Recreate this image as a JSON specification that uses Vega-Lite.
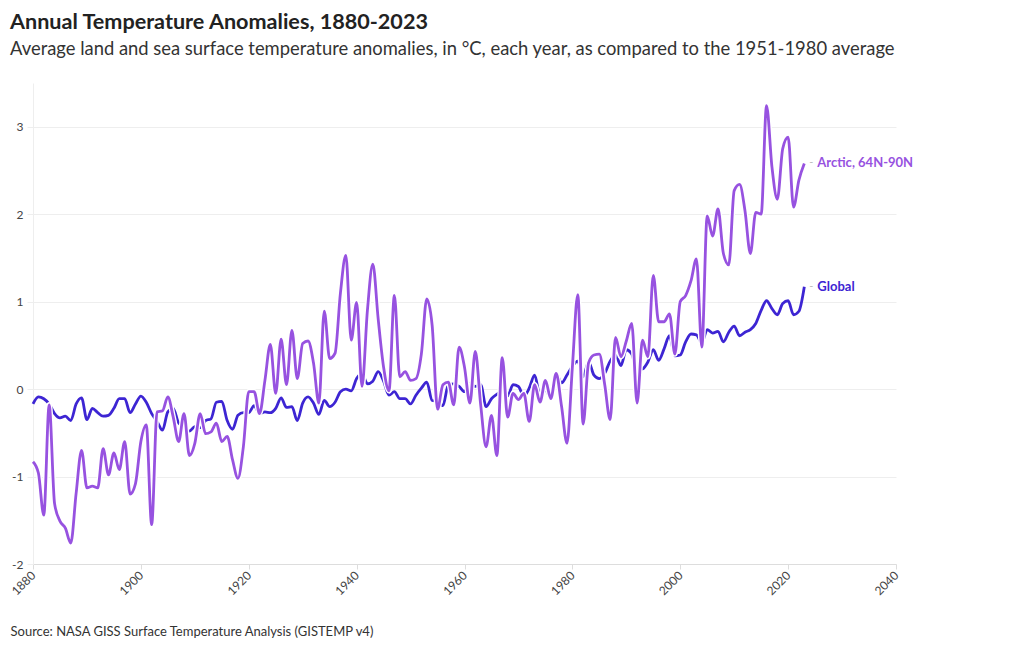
{
  "$schema": "https://vega.github.io/schema/vega-lite/v6.json",
  "width": 863,
  "height": 481,
  "autosize": {"type": "none"},
  "padding": {"left": 33, "top": 83, "right": 124, "bottom": 86},
  "background": "white",
  "config": {
    "font": "Lato",
    "view": {"stroke": null},
    "axis": {"labelFont": "Lato", "titleFont": "Lato"}
  },
  "title": {
    "text": "Annual Temperature Anomalies, 1880-2023",
    "subtitle": "Average land and sea surface temperature anomalies, in °C, each year, as compared to the 1951-1980 average",
    "anchor": "start",
    "frame": "group",
    "dx": -23,
    "offset": 25,
    "font": "Lato",
    "fontSize": 21.6,
    "fontWeight": "bold",
    "color": "#222222",
    "subtitleFont": "Lato",
    "subtitleFontSize": 18.4,
    "subtitleColor": "#333333",
    "subtitlePadding": 6
  },
  "data": {
    "values": [
      {"year": 1880, "Global": -0.17, "Arctic, 64N-90N": -0.83},
      {"year": 1881, "Global": -0.09, "Arctic, 64N-90N": -0.96},
      {"year": 1882, "Global": -0.11, "Arctic, 64N-90N": -1.44},
      {"year": 1883, "Global": -0.17, "Arctic, 64N-90N": -0.18},
      {"year": 1884, "Global": -0.28, "Arctic, 64N-90N": -1.31},
      {"year": 1885, "Global": -0.33, "Arctic, 64N-90N": -1.51},
      {"year": 1886, "Global": -0.31, "Arctic, 64N-90N": -1.59},
      {"year": 1887, "Global": -0.36, "Arctic, 64N-90N": -1.76},
      {"year": 1888, "Global": -0.17, "Arctic, 64N-90N": -1.19},
      {"year": 1889, "Global": -0.10, "Arctic, 64N-90N": -0.70},
      {"year": 1890, "Global": -0.35, "Arctic, 64N-90N": -1.13},
      {"year": 1891, "Global": -0.22, "Arctic, 64N-90N": -1.11},
      {"year": 1892, "Global": -0.27, "Arctic, 64N-90N": -1.13},
      {"year": 1893, "Global": -0.31, "Arctic, 64N-90N": -0.68},
      {"year": 1894, "Global": -0.30, "Arctic, 64N-90N": -0.98},
      {"year": 1895, "Global": -0.22, "Arctic, 64N-90N": -0.73},
      {"year": 1896, "Global": -0.11, "Arctic, 64N-90N": -0.92},
      {"year": 1897, "Global": -0.11, "Arctic, 64N-90N": -0.60},
      {"year": 1898, "Global": -0.27, "Arctic, 64N-90N": -1.20},
      {"year": 1899, "Global": -0.17, "Arctic, 64N-90N": -1.08},
      {"year": 1900, "Global": -0.08, "Arctic, 64N-90N": -0.60},
      {"year": 1901, "Global": -0.15, "Arctic, 64N-90N": -0.41},
      {"year": 1902, "Global": -0.28, "Arctic, 64N-90N": -1.55},
      {"year": 1903, "Global": -0.37, "Arctic, 64N-90N": -0.26},
      {"year": 1904, "Global": -0.47, "Arctic, 64N-90N": -0.25},
      {"year": 1905, "Global": -0.26, "Arctic, 64N-90N": -0.09},
      {"year": 1906, "Global": -0.22, "Arctic, 64N-90N": -0.32},
      {"year": 1907, "Global": -0.39, "Arctic, 64N-90N": -0.60},
      {"year": 1908, "Global": -0.43, "Arctic, 64N-90N": -0.28},
      {"year": 1909, "Global": -0.48, "Arctic, 64N-90N": -0.76},
      {"year": 1910, "Global": -0.43, "Arctic, 64N-90N": -0.62},
      {"year": 1911, "Global": -0.44, "Arctic, 64N-90N": -0.28},
      {"year": 1912, "Global": -0.36, "Arctic, 64N-90N": -0.51},
      {"year": 1913, "Global": -0.34, "Arctic, 64N-90N": -0.49},
      {"year": 1914, "Global": -0.15, "Arctic, 64N-90N": -0.39},
      {"year": 1915, "Global": -0.14, "Arctic, 64N-90N": -0.60},
      {"year": 1916, "Global": -0.36, "Arctic, 64N-90N": -0.54},
      {"year": 1917, "Global": -0.46, "Arctic, 64N-90N": -0.81},
      {"year": 1918, "Global": -0.30, "Arctic, 64N-90N": -1.02},
      {"year": 1919, "Global": -0.27, "Arctic, 64N-90N": -0.66},
      {"year": 1920, "Global": -0.27, "Arctic, 64N-90N": -0.03},
      {"year": 1921, "Global": -0.19, "Arctic, 64N-90N": -0.03},
      {"year": 1922, "Global": -0.28, "Arctic, 64N-90N": -0.28},
      {"year": 1923, "Global": -0.26, "Arctic, 64N-90N": 0.10},
      {"year": 1924, "Global": -0.27, "Arctic, 64N-90N": 0.51},
      {"year": 1925, "Global": -0.22, "Arctic, 64N-90N": -0.05},
      {"year": 1926, "Global": -0.10, "Arctic, 64N-90N": 0.57},
      {"year": 1927, "Global": -0.21, "Arctic, 64N-90N": 0.05},
      {"year": 1928, "Global": -0.20, "Arctic, 64N-90N": 0.67},
      {"year": 1929, "Global": -0.36, "Arctic, 64N-90N": 0.12},
      {"year": 1930, "Global": -0.16, "Arctic, 64N-90N": 0.52},
      {"year": 1931, "Global": -0.09, "Arctic, 64N-90N": 0.55},
      {"year": 1932, "Global": -0.16, "Arctic, 64N-90N": 0.30},
      {"year": 1933, "Global": -0.29, "Arctic, 64N-90N": -0.16},
      {"year": 1934, "Global": -0.13, "Arctic, 64N-90N": 0.89},
      {"year": 1935, "Global": -0.20, "Arctic, 64N-90N": 0.35},
      {"year": 1936, "Global": -0.15, "Arctic, 64N-90N": 0.41},
      {"year": 1937, "Global": -0.03, "Arctic, 64N-90N": 1.10},
      {"year": 1938, "Global": 0.00, "Arctic, 64N-90N": 1.53},
      {"year": 1939, "Global": -0.02, "Arctic, 64N-90N": 0.56},
      {"year": 1940, "Global": 0.12, "Arctic, 64N-90N": 0.99},
      {"year": 1941, "Global": 0.18, "Arctic, 64N-90N": 0.03},
      {"year": 1942, "Global": 0.06, "Arctic, 64N-90N": 0.90},
      {"year": 1943, "Global": 0.09, "Arctic, 64N-90N": 1.43},
      {"year": 1944, "Global": 0.20, "Arctic, 64N-90N": 0.80},
      {"year": 1945, "Global": 0.09, "Arctic, 64N-90N": 0.25},
      {"year": 1946, "Global": -0.07, "Arctic, 64N-90N": -0.02},
      {"year": 1947, "Global": -0.03, "Arctic, 64N-90N": 1.07},
      {"year": 1948, "Global": -0.11, "Arctic, 64N-90N": 0.14},
      {"year": 1949, "Global": -0.11, "Arctic, 64N-90N": 0.20},
      {"year": 1950, "Global": -0.17, "Arctic, 64N-90N": 0.10},
      {"year": 1951, "Global": -0.07, "Arctic, 64N-90N": 0.12},
      {"year": 1952, "Global": 0.01, "Arctic, 64N-90N": 0.40},
      {"year": 1953, "Global": 0.08, "Arctic, 64N-90N": 1.03},
      {"year": 1954, "Global": -0.13, "Arctic, 64N-90N": 0.73},
      {"year": 1955, "Global": -0.14, "Arctic, 64N-90N": -0.23},
      {"year": 1956, "Global": -0.19, "Arctic, 64N-90N": 0.05},
      {"year": 1957, "Global": 0.05, "Arctic, 64N-90N": 0.08},
      {"year": 1958, "Global": 0.06, "Arctic, 64N-90N": -0.18},
      {"year": 1959, "Global": 0.03, "Arctic, 64N-90N": 0.48},
      {"year": 1960, "Global": -0.03, "Arctic, 64N-90N": 0.25},
      {"year": 1961, "Global": 0.06, "Arctic, 64N-90N": -0.16},
      {"year": 1962, "Global": 0.03, "Arctic, 64N-90N": 0.43},
      {"year": 1963, "Global": 0.05, "Arctic, 64N-90N": -0.18},
      {"year": 1964, "Global": -0.20, "Arctic, 64N-90N": -0.66},
      {"year": 1965, "Global": -0.11, "Arctic, 64N-90N": -0.30},
      {"year": 1966, "Global": -0.06, "Arctic, 64N-90N": -0.76},
      {"year": 1967, "Global": -0.02, "Arctic, 64N-90N": 0.36},
      {"year": 1968, "Global": -0.08, "Arctic, 64N-90N": -0.32},
      {"year": 1969, "Global": 0.05, "Arctic, 64N-90N": -0.05},
      {"year": 1970, "Global": 0.03, "Arctic, 64N-90N": -0.12},
      {"year": 1971, "Global": -0.08, "Arctic, 64N-90N": -0.05},
      {"year": 1972, "Global": 0.01, "Arctic, 64N-90N": -0.37},
      {"year": 1973, "Global": 0.16, "Arctic, 64N-90N": 0.05},
      {"year": 1974, "Global": -0.07, "Arctic, 64N-90N": -0.15},
      {"year": 1975, "Global": -0.01, "Arctic, 64N-90N": 0.10},
      {"year": 1976, "Global": -0.10, "Arctic, 64N-90N": -0.11},
      {"year": 1977, "Global": 0.18, "Arctic, 64N-90N": 0.18},
      {"year": 1978, "Global": 0.07, "Arctic, 64N-90N": -0.20},
      {"year": 1979, "Global": 0.16, "Arctic, 64N-90N": -0.62},
      {"year": 1980, "Global": 0.26, "Arctic, 64N-90N": 0.25},
      {"year": 1981, "Global": 0.32, "Arctic, 64N-90N": 1.08},
      {"year": 1982, "Global": 0.14, "Arctic, 64N-90N": -0.40},
      {"year": 1983, "Global": 0.31, "Arctic, 64N-90N": 0.30},
      {"year": 1984, "Global": 0.16, "Arctic, 64N-90N": 0.39},
      {"year": 1985, "Global": 0.12, "Arctic, 64N-90N": 0.40},
      {"year": 1986, "Global": 0.18, "Arctic, 64N-90N": 0.05},
      {"year": 1987, "Global": 0.32, "Arctic, 64N-90N": -0.35},
      {"year": 1988, "Global": 0.39, "Arctic, 64N-90N": 0.59},
      {"year": 1989, "Global": 0.27, "Arctic, 64N-90N": 0.37},
      {"year": 1990, "Global": 0.45, "Arctic, 64N-90N": 0.55},
      {"year": 1991, "Global": 0.40, "Arctic, 64N-90N": 0.75},
      {"year": 1992, "Global": 0.22, "Arctic, 64N-90N": -0.16},
      {"year": 1993, "Global": 0.23, "Arctic, 64N-90N": 0.56},
      {"year": 1994, "Global": 0.31, "Arctic, 64N-90N": 0.37},
      {"year": 1995, "Global": 0.45, "Arctic, 64N-90N": 1.30},
      {"year": 1996, "Global": 0.33, "Arctic, 64N-90N": 0.77},
      {"year": 1997, "Global": 0.46, "Arctic, 64N-90N": 0.77},
      {"year": 1998, "Global": 0.61, "Arctic, 64N-90N": 0.86},
      {"year": 1999, "Global": 0.38, "Arctic, 64N-90N": 0.40},
      {"year": 2000, "Global": 0.39, "Arctic, 64N-90N": 1.00},
      {"year": 2001, "Global": 0.54, "Arctic, 64N-90N": 1.07},
      {"year": 2002, "Global": 0.63, "Arctic, 64N-90N": 1.24},
      {"year": 2003, "Global": 0.62, "Arctic, 64N-90N": 1.49},
      {"year": 2004, "Global": 0.53, "Arctic, 64N-90N": 0.48},
      {"year": 2005, "Global": 0.68, "Arctic, 64N-90N": 1.98},
      {"year": 2006, "Global": 0.64, "Arctic, 64N-90N": 1.75},
      {"year": 2007, "Global": 0.66, "Arctic, 64N-90N": 2.06},
      {"year": 2008, "Global": 0.54, "Arctic, 64N-90N": 1.55},
      {"year": 2009, "Global": 0.65, "Arctic, 64N-90N": 1.42},
      {"year": 2010, "Global": 0.72, "Arctic, 64N-90N": 2.27},
      {"year": 2011, "Global": 0.61, "Arctic, 64N-90N": 2.34},
      {"year": 2012, "Global": 0.65, "Arctic, 64N-90N": 2.04},
      {"year": 2013, "Global": 0.68, "Arctic, 64N-90N": 1.55},
      {"year": 2014, "Global": 0.75, "Arctic, 64N-90N": 2.02},
      {"year": 2015, "Global": 0.90, "Arctic, 64N-90N": 2.00},
      {"year": 2016, "Global": 1.01, "Arctic, 64N-90N": 3.24},
      {"year": 2017, "Global": 0.92, "Arctic, 64N-90N": 2.54},
      {"year": 2018, "Global": 0.85, "Arctic, 64N-90N": 2.17},
      {"year": 2019, "Global": 0.98, "Arctic, 64N-90N": 2.75},
      {"year": 2020, "Global": 1.01, "Arctic, 64N-90N": 2.88},
      {"year": 2021, "Global": 0.85, "Arctic, 64N-90N": 2.08},
      {"year": 2022, "Global": 0.89, "Arctic, 64N-90N": 2.39},
      {"year": 2023, "Global": 1.17, "Arctic, 64N-90N": 2.58}
    ]
  },
  "transform": [
    {"fold": ["Global", "Arctic, 64N-90N"], "as": ["series", "value"]}
  ],
  "encoding": {
    "x": {
      "field": "year",
      "type": "quantitative",
      "scale": {"domain": [1880, 2040], "nice": false, "zero": false},
      "axis": {
        "values": [1880, 1900, 1920, 1940, 1960, 1980, 2000, 2020, 2040],
        "format": "d",
        "grid": false,
        "labelAngle": -45,
        "labelAlign": "right",
        "labelBaseline": "middle",
        "labelFontSize": 12,
        "labelColor": "#444444",
        "labelPadding": 4,
        "tickColor": "#dddddd",
        "tickSize": 5,
        "domainColor": "#dddddd",
        "title": "Source: NASA GISS Surface Temperature Analysis (GISTEMP v4)",
        "titleFontSize": 13,
        "titleFontWeight": "normal",
        "titleColor": "#333333",
        "titleAnchor": null,
        "titleAlign": "left",
        "titleBaseline": "alphabetic",
        "titleX": -23,
        "titleY": 71
      }
    },
    "y": {
      "field": "value",
      "type": "quantitative",
      "scale": {"domain": [-2, 3.5], "nice": false, "zero": false},
      "axis": {
        "values": [-2, -1, 0, 1, 2, 3],
        "labelExpr": "'' + datum.value",
        "labelFontSize": 12,
        "labelColor": "#444444",
        "labelPadding": 4,
        "tickColor": "#eeeeee",
        "tickSize": 6,
        "gridColor": "#eeeeee",
        "domainColor": "#eeeeee",
        "title": null
      }
    }
  },
  "layer": [
    {
      "transform": [{"filter": "datum.series === 'Global'"}],
      "mark": {"type": "line", "interpolate": "monotone", "stroke": "#3d25d3", "strokeWidth": 2.8},
      "encoding": {}
    },
    {
      "transform": [{"filter": "datum.series !== 'Global'"}],
      "mark": {"type": "line", "interpolate": "monotone", "stroke": "white", "strokeWidth": 5.5},
      "encoding": {}
    },
    {
      "transform": [{"filter": "datum.series !== 'Global'"}],
      "mark": {"type": "line", "interpolate": "monotone", "stroke": "#9752e0", "strokeWidth": 2.8},
      "encoding": {}
    },
    {
      "transform": [{"filter": "datum.year === 2023"}],
      "mark": {"type": "text", "align": "left", "baseline": "middle", "dx": 5, "fontSize": 11, "color": "#bbbbbb", "text": "-"},
      "encoding": {}
    },
    {
      "transform": [{"filter": "datum.year === 2023"}],
      "mark": {"type": "text", "align": "left", "baseline": "middle", "dx": 13, "fontSize": 13, "fontWeight": "bold"},
      "encoding": {
        "text": {"field": "series"},
        "color": {
          "field": "series",
          "type": "nominal",
          "scale": {"domain": ["Global", "Arctic, 64N-90N"], "range": ["#3d25d3", "#9752e0"]},
          "legend": null
        }
      }
    }
  ]
}
